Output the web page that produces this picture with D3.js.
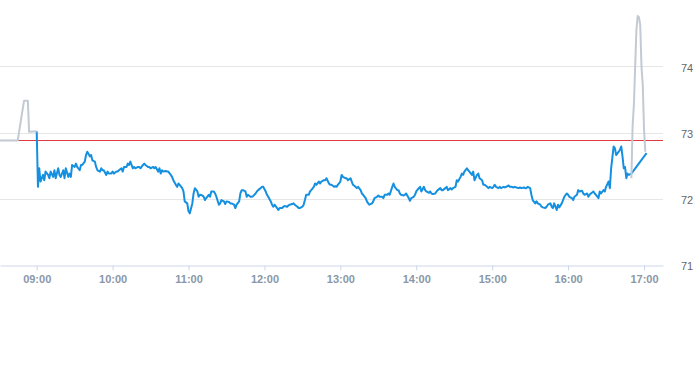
<!DOCTYPE html>
<html>
<head>
<meta charset="utf-8">
<script src="https://cdn.jsdelivr.net/npm/d3@7"></script>
<style>
  html, body { margin: 0; padding: 0; background: #fff; }
  svg { display: block; font-family: "Liberation Sans", Arial, sans-serif; }
</style>
</head>
<body>
<div id="chart"></div>
<script>
/* DATA */
const sessionOpen = "09:00";
const viewStart = "08:31", viewEnd = "17:15";
const prevClose = 72.89;
const yTicks = [71, 72, 73, 74];

// pre-market (minutes relative to the open)
const preMinutes = [-29, -15, -10, -7, -6, 0];
const prePrices = [72.88, 72.88, 73.48, 73.48, 73.01, 73.02];

// regular session
const sessionMinutes = [
  0, 1, 2, 3, 5, 6, 7, 9, 10, 11,
  13, 14, 15, 17, 18, 19, 21, 22, 23, 25,
  26, 27, 28, 30, 31, 32, 34, 35, 36, 38,
  39, 40, 42, 43, 44, 46, 47, 48, 50, 51,
  52, 53, 55, 56, 57, 59, 60, 61, 63, 64,
  65, 67, 68, 69, 71, 72, 73, 74, 76, 77,
  78, 80, 81, 82, 84, 85, 86, 88, 89, 90,
  92, 93, 94, 96, 97, 98, 99, 100, 102, 103,
  104, 106, 107, 108, 110, 111, 112, 113, 115, 116,
  117, 119, 120, 121, 123, 124, 125, 127, 128, 129,
  131, 132, 133, 134, 136, 137, 138, 140, 141, 142,
  144, 145, 146, 148, 149, 150, 152, 153, 154, 156,
  157, 158, 160, 161, 162, 163, 165, 166, 167, 169,
  170, 171, 173, 174, 175, 177, 178, 179, 181, 182,
  183, 185, 186, 187, 188, 190, 191, 192, 194, 195,
  196, 198, 199, 200, 202, 203, 204, 206, 207, 208,
  210, 211, 212, 213, 215, 216, 217, 219, 220, 221,
  223, 224, 225, 227, 228, 229, 231, 232, 233, 235,
  236, 237, 238, 240, 241, 242, 244, 245, 246, 248,
  249, 250, 252, 253, 254, 256, 257, 258, 260, 261,
  262, 263, 265, 266, 267, 269, 270, 271, 273, 274,
  275, 277, 278, 279, 281, 282, 283, 285, 286, 287,
  288, 290, 291, 292, 294, 295, 296, 298, 299, 300,
  302, 303, 304, 306, 307, 308, 310, 311, 312, 313,
  315, 316, 317, 319, 320, 321, 323, 324, 325, 327,
  328, 329, 331, 332, 333, 335, 336, 337, 338, 340,
  341, 342, 344, 345, 346, 348, 349, 350, 352, 353,
  354, 356, 357, 358, 360, 361, 362, 363, 365, 366,
  367, 369, 370, 371, 373, 374, 375, 377, 378, 379,
  381, 382, 383, 385, 386, 387, 388, 390, 391, 392,
  394, 395, 396, 398, 399, 400, 402, 403, 404, 406,
  407, 408, 409, 411, 412, 413, 415, 416, 417, 419,
  420, 421, 423, 424, 425, 427, 428, 429, 431, 432,
  433, 435, 436, 437, 438, 440, 441, 442, 444, 445,
  446, 448, 449, 450, 452, 453, 454, 456, 457, 458,
  460, 461, 462, 463, 464, 465, 466, 467, 468, 470,
  482
];
const sessionPrices = [
  73.02, 72.18, 72.46, 72.26, 72.36, 72.28, 72.41, 72.36, 72.31, 72.41,
  72.33, 72.43, 72.31, 72.46, 72.36, 72.33, 72.43, 72.31, 72.46, 72.33,
  72.38, 72.33, 72.51, 72.48, 72.53, 72.48, 72.43, 72.51, 72.51, 72.56,
  72.66, 72.71, 72.64, 72.66, 72.58, 72.56, 72.48, 72.43, 72.41, 72.46,
  72.43, 72.43, 72.36, 72.41, 72.38, 72.38, 72.41, 72.38, 72.41, 72.41,
  72.43, 72.46, 72.41, 72.48, 72.48, 72.53, 72.51, 72.56, 72.46, 72.48,
  72.46, 72.48, 72.48, 72.46, 72.51, 72.53, 72.51, 72.48, 72.48, 72.46,
  72.48, 72.46, 72.48, 72.41, 72.46, 72.38, 72.43, 72.41, 72.42, 72.41,
  72.41, 72.36, 72.33, 72.28, 72.21, 72.18, 72.23, 72.21, 72.16, 72.11,
  71.96, 71.93, 71.81, 71.78, 71.93, 72.08, 72.16, 72.11, 72.03, 72.06,
  72.05, 72.03, 71.98, 72.01, 72.06, 72.03, 72.11, 72.11, 72.08, 72.03,
  71.91, 71.93, 71.98, 71.96, 71.92, 71.96, 71.95, 71.93, 71.93, 71.91,
  71.86, 71.91, 71.96, 72.08, 72.13, 72.13, 72.11, 72.03, 72.06, 72.03,
  72.03, 72.04, 72.08, 72.11, 72.13, 72.16, 72.18, 72.18, 72.11, 72.06,
  72.03, 71.96, 71.91, 71.88, 71.91, 71.86, 71.83, 71.86, 71.86, 71.88,
  71.89, 71.88, 71.90, 71.91, 71.92, 71.93, 71.91, 71.88, 71.86, 71.86,
  71.88, 71.91, 71.98, 72.06, 72.06, 72.11, 72.13, 72.18, 72.23, 72.21,
  72.26, 72.23, 72.26, 72.28, 72.28, 72.31, 72.23, 72.21, 72.21, 72.18,
  72.19, 72.18, 72.21, 72.26, 72.36, 72.33, 72.31, 72.31, 72.28, 72.31,
  72.26, 72.21, 72.18, 72.16, 72.18, 72.13, 72.08, 72.06, 72.01, 71.96,
  71.93, 71.91, 71.93, 71.96, 72.01, 72.03, 72.05, 72.03, 72.03, 72.01,
  72.06, 72.06, 72.08, 72.06, 72.18, 72.23, 72.18, 72.13, 72.13, 72.08,
  72.06, 72.05, 72.06, 72.08, 72.01, 71.97, 72.01, 72.03, 72.06, 72.11,
  72.16, 72.18, 72.11, 72.18, 72.13, 72.11, 72.09, 72.11, 72.08, 72.07,
  72.08, 72.11, 72.13, 72.16, 72.13, 72.13, 72.16, 72.18, 72.13, 72.16,
  72.14, 72.16, 72.18, 72.28, 72.26, 72.33, 72.38, 72.36, 72.41, 72.46,
  72.43, 72.41, 72.36, 72.41, 72.28, 72.36, 72.38, 72.31, 72.28, 72.21,
  72.21, 72.18, 72.16, 72.18, 72.16, 72.18, 72.21, 72.18, 72.16, 72.18,
  72.16, 72.18, 72.17, 72.18, 72.20, 72.18, 72.18, 72.17, 72.18, 72.17,
  72.16, 72.17, 72.16, 72.17, 72.16, 72.16, 72.18, 72.16, 72.06, 71.98,
  71.93, 71.96, 71.93, 71.91, 71.88, 71.87, 71.86, 71.88, 71.91, 71.93,
  71.88, 71.86, 71.93, 71.83, 71.91, 71.87, 71.93, 71.98, 72.03, 72.08,
  72.06, 72.03, 72.01, 71.98, 72.03, 72.06, 72.13, 72.11, 72.12, 72.08,
  72.06, 72.08, 72.03, 72.06, 72.08, 72.11, 72.08, 72.06, 72.01, 72.11,
  72.08, 72.13, 72.11, 72.18, 72.26, 72.16, 72.46, 72.79, 72.76, 72.66,
  72.71, 72.74, 72.79, 72.64, 72.46, 72.48, 72.31, 72.38, 72.36, 72.38,
  72.69
];

// after-hours
const postMinutes = [470, 471, 472, 473, 474, 475, 476, 477, 478, 479, 480, 481];
const postPrices = [72.31, 73.11, 73.42, 74.00, 74.55, 74.76, 74.74, 74.62, 73.99, 73.72, 73.05, 72.71];

/* CONSTANTS */
const width = 693, height = 365;
const plotW = 663, plotH = 265;

const parseHM = d3.timeParse("%H:%M");
const open = parseHM(sessionOpen);
const toTime = m => d3.timeMinute.offset(open, m);
const zip = (ms, ps) => ms.map((m, i) => ({ t: toTime(m), v: ps[i] }));

const x = d3.scaleTime()
  .domain([parseHM(viewStart), parseHM(viewEnd)])
  .range([0, plotW]);
const y = d3.scaleLinear()
  .domain([71, 75])
  .range([plotH, 0]);

const svg = d3.select("#chart")
  .append("svg")
  .attr("width", width)
  .attr("height", height);

// grid
svg.append("g")
  .selectAll("line")
  .data(yTicks.filter(d => d !== 71))
  .join("line")
  .attr("x1", 0)
  .attr("x2", plotW)
  .attr("y1", d => Math.round(y(d)) + 0.5)
  .attr("y2", d => Math.round(y(d)) + 0.5)
  .attr("stroke", "#e6e6e6");

// y labels on the right
const yAxis = svg.append("g")
  .attr("transform", `translate(${plotW},0)`)
  .call(d3.axisRight(y).tickValues(yTicks).tickSize(0).tickPadding(18).tickFormat(d3.format("d")));
yAxis.select(".domain").remove();
yAxis.selectAll("text")
  .attr("fill", "#666")
  .attr("font-size", 11)
  .attr("dy", "0.45em");

// x axis
const xAxis = svg.append("g")
  .attr("transform", `translate(0,${plotH + 0.5})`)
  .call(d3.axisBottom(x)
    .ticks(d3.timeHour.every(1))
    .tickFormat(d3.timeFormat("%H:%M"))
    .tickSize(5)
    .tickSizeOuter(0)
    .tickPadding(5));
xAxis.select(".domain").attr("stroke", "#ccd6eb");
xAxis.selectAll(".tick line").attr("stroke", "#ccd6eb");
xAxis.selectAll("text")
  .attr("fill", "#8a97a8")
  .attr("font-size", 11)
  .attr("font-weight", "bold");

// previous close
svg.append("line")
  .attr("x1", 0)
  .attr("x2", plotW)
  .attr("y1", Math.round(y(prevClose)) + 0.5)
  .attr("y2", Math.round(y(prevClose)) + 0.5)
  .attr("stroke", "#e0393e");

const line = d3.line()
  .x(d => x(d.t))
  .y(d => y(d.v));

svg.append("path")
  .datum(zip(sessionMinutes, sessionPrices))
  .attr("d", line)
  .attr("fill", "none")
  .attr("stroke", "#1590e0")
  .attr("stroke-width", 2)
  .attr("stroke-linejoin", "round");

svg.append("path")
  .datum(zip(preMinutes, prePrices))
  .attr("d", line)
  .attr("fill", "none")
  .attr("stroke", "#c2cad4")
  .attr("stroke-width", 2)
  .attr("stroke-linejoin", "round");

svg.append("path")
  .datum(zip(postMinutes, postPrices))
  .attr("d", line)
  .attr("fill", "none")
  .attr("stroke", "#c2cad4")
  .attr("stroke-width", 2)
  .attr("stroke-linejoin", "round");
</script>
</body>
</html>
